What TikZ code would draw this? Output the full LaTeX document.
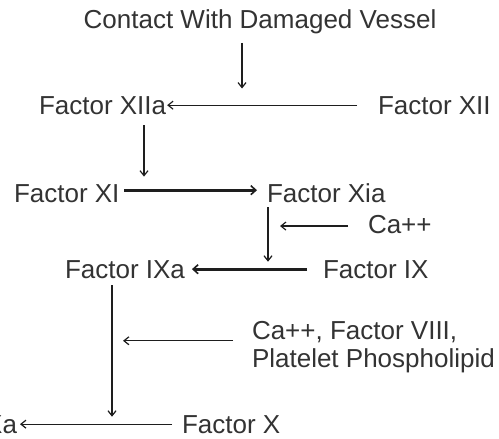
\documentclass[tikz,border=0pt]{standalone}
\usepackage{fontspec}
\setmainfont{Liberation Sans}
\usetikzlibrary{arrows.meta}
\definecolor{txt}{HTML}{333333}
\definecolor{ln}{HTML}{1E1E1E}
\begin{document}
\begin{tikzpicture}[x=1pt,y=-1pt,
  lbl/.style={inner sep=0pt,outer sep=0pt,text=txt,font=\fontsize{26}{28}\selectfont},
  arr/.style={draw=ln,line width=1.2pt,-{Straight Barb[length=5pt,width=8pt]}},
  thickarr/.style={draw=ln,line width=3.2pt,-{Straight Barb[length=5pt,width=9pt,line width=1.6pt]}}]
\fill[white] (0,0) rectangle (499,439);
\useasboundingbox (0,0) rectangle (499,439);
% nodes
\node[lbl,anchor=base] (contact) at (260,28) {Contact With Damaged Vessel};
\node[lbl,anchor=base west] (xiia) at (39,114) {Factor XIIa};
\node[lbl,anchor=base west] (xii) at (378,114) {Factor XII};
\node[lbl,anchor=base west] (xi) at (14,202) {Factor XI};
\node[lbl,anchor=base west] (xia) at (267,202) {Factor Xia};
\node[lbl,anchor=base west] (ca) at (368,233) {Ca++};
\node[lbl,anchor=base west] (ixa) at (65,278) {Factor IXa};
\node[lbl,anchor=base west] (ix) at (323,278) {Factor IX};
\node[lbl,anchor=north west,align=left] (cof) at (252,321.5) {Ca++, Factor VIII,\\Platelet Phospholipid};
\node[lbl,anchor=base west] (x) at (182,433) {Factor X};
\node[lbl,anchor=base east] (xa) at (17,433) {Factor Xa};
% junctions
\coordinate (j1) at (242,104.5);
\coordinate (j2) at (144,150);
\coordinate (j3) at (268,268.7);
\coordinate (j4) at (112,423.7);
% connectors
\draw[arr,shorten <=9.5pt,shorten >=16pt] (contact.south -| j1) -- (j1);
\draw[arr,shorten <=21pt,shorten >=1pt] (xii.west) -- (xiia.east);
\draw[arr,shorten <=11pt,shorten >=7.5pt] (xiia.south -| j2) -- (xi.north -| j2);
\draw[thickarr,shorten <=5pt,shorten >=10pt] ([yshift=3pt]xi.east) -- ([yshift=3pt]xi.east -| xia.west);
\draw[arr,shorten <=5pt,shorten >=7pt] (xia.south -| j3) -- (j3);
\draw[arr,shorten <=20pt,shorten >=12pt] ([yshift=-2pt]ca.west) -- ([yshift=-2pt]ca.west -| j3);
\draw[thickarr,shorten <=16pt,shorten >=7pt] (ix.west) -- (ixa.east);
\draw[arr,shorten <=7pt,shorten >=7pt] (ixa.south -| j4) -- (j4);
\draw[arr,shorten <=19pt,shorten >=11pt] ([yshift=6.5pt]cof.west) -- ([yshift=6.5pt]cof.west -| j4);
\draw[arr,shorten <=10pt,shorten >=3pt] (x.west) -- (xa.east);
\end{tikzpicture}
\end{document}
